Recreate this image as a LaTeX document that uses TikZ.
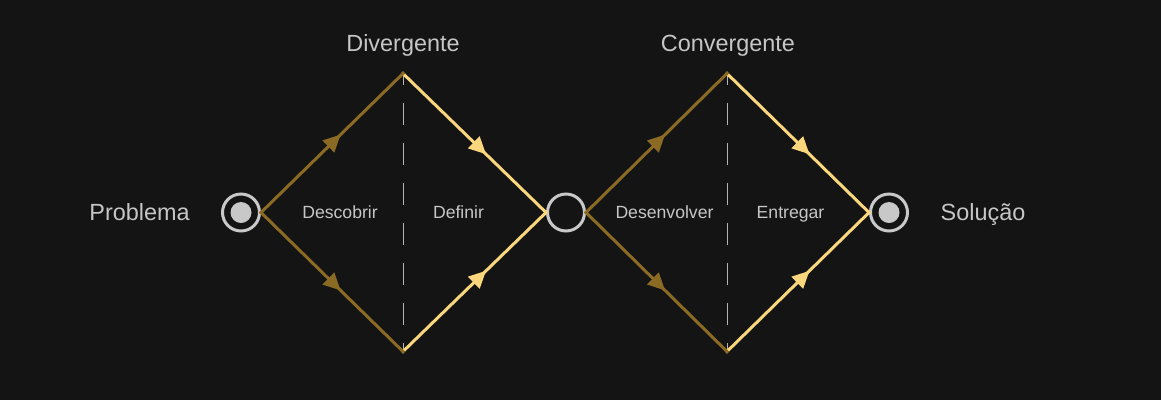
\documentclass[tikz,border=0pt]{standalone}
\usepackage{fontspec}
\setmainfont{Liberation Sans}
\usetikzlibrary{arrows.meta,decorations.markings}
\definecolor{bg}{HTML}{141414}
\definecolor{gold}{HTML}{8B6B24}
\definecolor{lightgold}{HTML}{FAD67C}
\definecolor{txt}{HTML}{C6C6C6}
\definecolor{ring}{HTML}{C8C8C8}
\definecolor{divcol}{HTML}{B4B4B4}
\begin{document}
\begin{tikzpicture}[x=1bp,y=-1bp,
  state/.style={circle,draw=ring,line width=3bp,minimum size=37bp,inner sep=0pt},
  dotnode/.style={circle,fill=ring,minimum size=21bp,inner sep=0pt},
  seg/.style={line width=3bp,line cap=rect},
  darkseg/.style={seg,draw=gold,postaction={decorate},
    decoration={markings,mark=at position 0.56 with {\arrow[gold]{Triangle[length=17bp,width=17bp,line width=0pt]}}}},
  lightseg/.style={seg,draw=lightgold,postaction={decorate},
    decoration={markings,mark=at position 0.58 with {\arrow[lightgold]{Triangle[length=17bp,width=17bp,line width=0pt]}}}},
  divider/.style={draw=divcol,line width=1bp,dash pattern=on 22bp off 18bp,dash phase=10.5bp},
  bigtext/.style={text=txt,font=\fontsize{23.5}{28}\selectfont,anchor=base,inner sep=0pt},
  smalltext/.style={text=txt,font=\fontsize{17.7}{21}\selectfont,anchor=base,inner sep=0pt}
]
\fill[bg] (0,0) rectangle (1161,400);
\useasboundingbox (0,0) rectangle (1161,400);

% vertices
\coordinate (t1) at (403,73.5);
\coordinate (b1) at (403,351.5);
\coordinate (t2) at (727,73.5);
\coordinate (b2) at (727,351.5);

% circles
\node[state] (c1) at (241,212.5) {};
\node[dotnode] (d1) at (241,212.5) {};
\node[state] (c2) at (566,212.5) {};
\node[state] (c3) at (889,212.5) {};
\node[dotnode] (d3) at (889,212.5) {};

% dividers
\draw[divider] (t1) -- (b1);
\draw[divider] (t2) -- (b2);

% diamond 1
\draw[lightseg] (t1) -- (c2.west);
\draw[lightseg] (b1) -- (c2.west);
\draw[darkseg] (c1.east) -- (t1);
\draw[darkseg] (c1.east) -- (b1);

% diamond 2
\draw[lightseg] (t2) -- (c3.west);
\draw[lightseg] (b2) -- (c3.west);
\draw[darkseg] (c2.east) -- (t2);
\draw[darkseg] (c2.east) -- (b2);

% labels
\node[bigtext] (problema) at (139.5,220.5) {Problema};
\node[bigtext] (solucao) at (983,220.5) {Solução};
\node[bigtext] (divergente) at (403,51.5) {Divergente};
\node[bigtext] (convergente) at (728,51.5) {Convergente};
\node[smalltext] (descobrir) at (340,218.5) {Descobrir};
\node[smalltext] (definir) at (458.5,218.5) {Definir};
\node[smalltext] (desenvolver) at (664.5,218.5) {Desenvolver};
\node[smalltext] (entregar) at (790.5,218.5) {Entregar};
\end{tikzpicture}
\end{document}
